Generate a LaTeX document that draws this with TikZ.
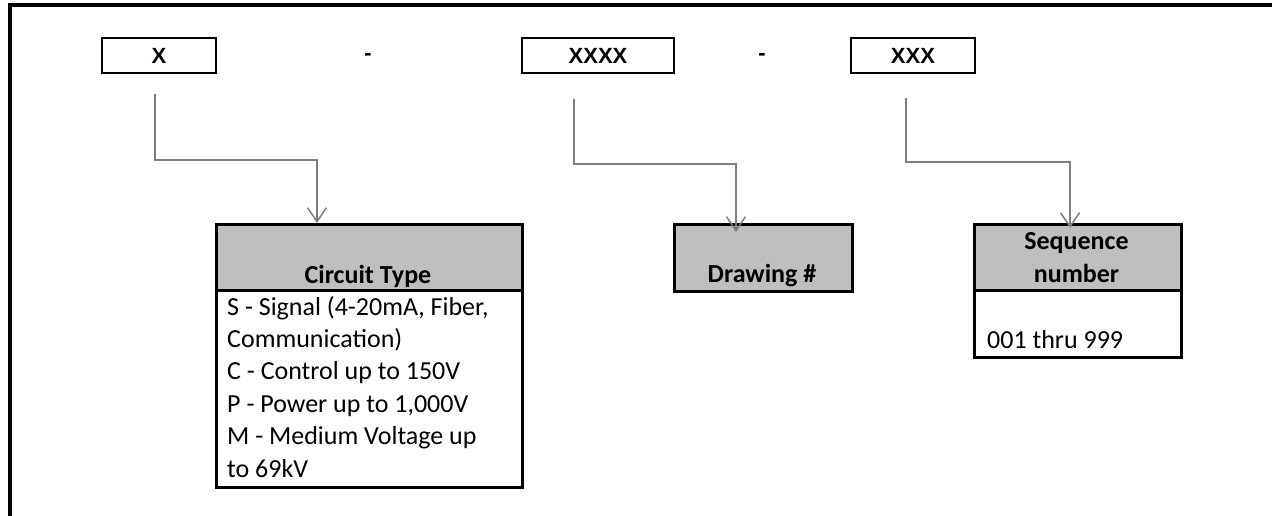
\documentclass[tikz,border=0pt]{standalone}
\usepackage{fontspec}
\setmainfont{Carlito}
\newfontfamily\codefont{Liberation Sans}
\usetikzlibrary{arrows.meta,calc}
\definecolor{hdrgray}{HTML}{BFBFBF}
\definecolor{conngray}{HTML}{7F7F7F}
\begin{document}
\begin{tikzpicture}[x=1pt,y=-1pt,
  codebox/.style={draw=black, line width=2.3pt, minimum height=35pt, inner sep=0pt, font=\codefont\bfseries\fontsize{22}{26}\selectfont},
  dashlbl/.style={inner sep=0pt, font=\codefont\bfseries\fontsize{22}{26}\selectfont},
  hdrbox/.style={draw=black, fill=hdrgray, line width=2.5pt, inner sep=0pt, anchor=north west},
  bodybox/.style={draw=black, fill=white, line width=2.5pt, inner sep=0pt, anchor=north west},
  hdrtext/.style={anchor=base, inner sep=0pt, font=\bfseries\fontsize{26}{32}\selectfont},
  bodytext/.style={anchor=base west, inner sep=0pt, font=\fontsize{26}{32}\selectfont},
  conn/.style={draw=conngray, line width=1.5pt, -{Straight Barb[length=14pt,width=19pt]}},
  frameline/.style={draw=black, line width=3.3pt, line join=miter}
]
\useasboundingbox (0,0) rectangle (1272,516);
\draw[frameline] (10,520) -- (10,5) -- (1275,5);

% code boxes
\node[codebox, minimum width=114pt] (bx) at (159,55.5) {X};
\node[dashlbl] (d1) at (368,57) {-};
\node[codebox, minimum width=152pt] (bxxxx) at (598,55.5) {XXXX};
\node[dashlbl] (d2) at (762,57) {-};
\node[codebox, minimum width=124pt] (bxxx) at (913,55.5) {XXX};

% Circuit Type
\node[bodybox, minimum width=306pt, minimum height=197pt] (ctB) at (215,289) {};
\node[hdrbox, minimum width=306pt, minimum height=66pt] (ctH) at (215,223) {};
\node[hdrtext] (ctT) at (368,283) {Circuit Type};
\node[bodytext] (ct1) at (227,315) {S - Signal (4-20mA, Fiber,};
\node[bodytext] (ct2) at (227,347.4) {Communication)};
\node[bodytext] (ct3) at (227,379.8) {C - Control up to 150V};
\node[bodytext] (ct4) at (227,412.2) {P - Power up to 1,000V};
\node[bodytext] (ct5) at (227,444.6) {M - Medium Voltage up};
\node[bodytext] (ct6) at (227,477) {to 69kV};

% Drawing #
\node[hdrbox, minimum width=178pt, minimum height=67pt] (dwH) at (673,223) {};
\node[hdrtext] (dwT) at (762,282) {Drawing \#};

% Sequence number
\node[bodybox, minimum width=207pt, minimum height=67pt] (sqB) at (973,289) {};
\node[hdrbox, minimum width=207pt, minimum height=66pt] (sqH) at (973,223) {};
\node[hdrtext] (sqT1) at (1076.5,249) {Sequence};
\node[hdrtext] (sqT2) at (1076.5,282) {number};
\node[bodytext] (sq1) at (987,348) {001 thru 999};

% connectors
\coordinate (c1s) at ($(bx.south)+(-4,20)$);
\coordinate (c1e) at ($(ctH.north west)+(102,0)$);
\draw[conn] (c1s) |- ($(c1e)+(0,-63)$) -- (c1e);

\coordinate (c2s) at ($(bxxxx.south)+(-24,25)$);
\coordinate (c2e) at ($(dwH.north west)+(63,9)$);
\draw[conn] (c2s) |- ($(c2e)+(0,-68)$) -- (c2e);

\coordinate (c3s) at ($(bxxx.south)+(-7,24)$);
\coordinate (c3e) at ($(sqH.north west)+(97,5)$);
\draw[conn] (c3s) |- ($(c3e)+(0,-66)$) -- (c3e);
\end{tikzpicture}
\end{document}
